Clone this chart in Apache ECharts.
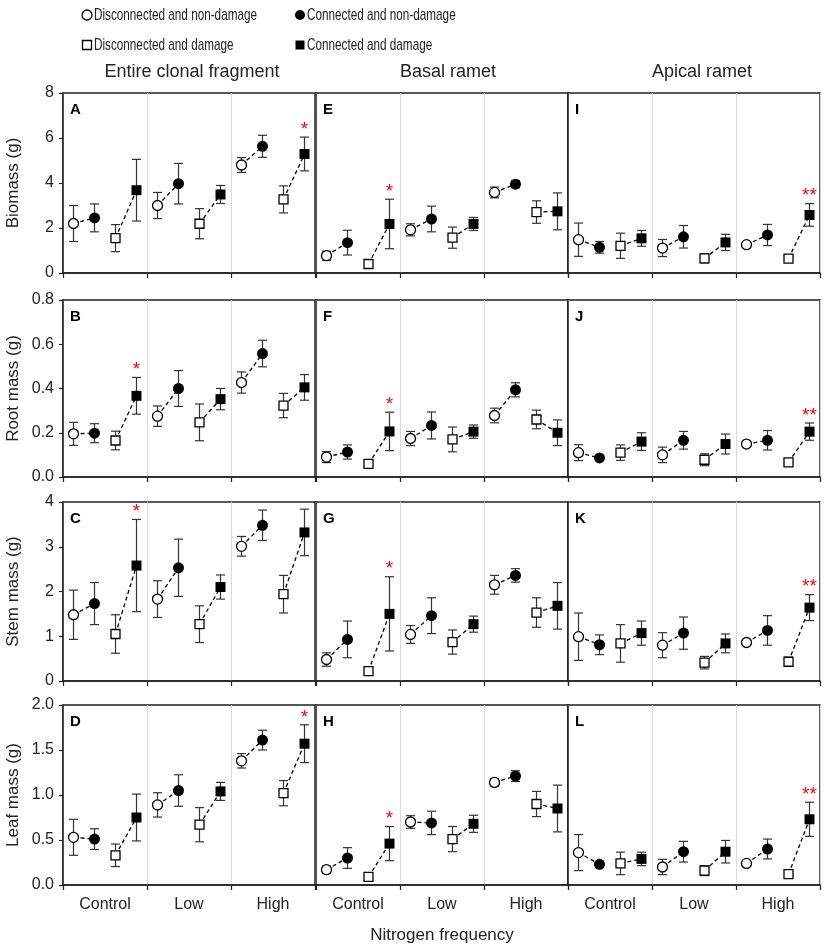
<!DOCTYPE html>
<html>
<head>
<meta charset="utf-8">
<title>Nitrogen frequency</title>
<script src="https://cdn.jsdelivr.net/npm/echarts@6.0.0/dist/echarts.min.js"></script>
<style>
  html, body { margin: 0; padding: 0; background: #fff; }
  #chart { width: 829px; height: 947px; }
</style>
</head>
<body>
<div id="chart"></div>
<script type="text/javascript">
// ---- data ----
var nitrogen = ['Control', 'Low', 'High'];
var treatments = ['Disconnected and non-damage', 'Connected and non-damage',
                  'Disconnected and damage', 'Connected and damage'];
var columnTitles = ['Entire clonal fragment', 'Basal ramet', 'Apical ramet'];
var rowNames = ['Biomass (g)', 'Root mass (g)', 'Stem mass (g)', 'Leaf mass (g)'];
var yMax = [8, 0.8, 4, 2];
var yStep = [2, 0.2, 1, 0.5];
var yDigits = [0, 1, 0, 1];
var letters = ['A', 'B', 'C', 'D', 'E', 'F', 'G', 'H', 'I', 'J', 'K', 'L'];

// order inside each group: open circle, filled circle, open square, filled square
var meanA = [2.2, 2.45, 1.55, 3.68, 3.0, 3.97, 2.19, 3.49, 4.8, 5.63, 3.27, 5.29];
var errA  = [0.8, 0.62, 0.6, 1.37, 0.58, 0.9, 0.67, 0.4, 0.33, 0.49, 0.6, 0.75];
var meanB = [0.195, 0.198, 0.165, 0.367, 0.275, 0.4, 0.247, 0.352, 0.427, 0.558, 0.323, 0.405];
var errB  = [0.052, 0.043, 0.042, 0.083, 0.046, 0.081, 0.083, 0.048, 0.048, 0.06, 0.055, 0.058];
var meanC = [1.48, 1.73, 1.05, 2.58, 1.83, 2.53, 1.27, 2.1, 3.01, 3.48, 1.94, 3.32];
var errC  = [0.55, 0.47, 0.43, 1.03, 0.41, 0.64, 0.41, 0.27, 0.22, 0.34, 0.42, 0.52];
var meanD = [0.53, 0.51, 0.33, 0.75, 0.89, 1.05, 0.67, 1.04, 1.38, 1.61, 1.02, 1.57];
var errD  = [0.2, 0.115, 0.125, 0.26, 0.135, 0.175, 0.19, 0.1, 0.08, 0.11, 0.14, 0.21];
var meanE = [0.77, 1.35, 0.4, 2.18, 1.92, 2.4, 1.57, 2.18, 3.58, 3.95, 2.71, 2.74];
var errE  = [0.2, 0.55, 0.05, 1.1, 0.27, 0.57, 0.47, 0.29, 0.24, 0.16, 0.5, 0.82];
var meanF = [0.09, 0.113, 0.059, 0.206, 0.174, 0.233, 0.17, 0.205, 0.278, 0.394, 0.26, 0.2];
var errF  = [0.025, 0.032, 0.008, 0.087, 0.032, 0.061, 0.056, 0.03, 0.033, 0.032, 0.042, 0.058];
var meanG = [0.48, 0.93, 0.22, 1.5, 1.04, 1.46, 0.87, 1.27, 2.15, 2.36, 1.53, 1.68];
var errG  = [0.15, 0.41, 0.03, 0.83, 0.2, 0.4, 0.27, 0.18, 0.21, 0.15, 0.33, 0.52];
var meanH = [0.17, 0.3, 0.09, 0.46, 0.7, 0.69, 0.51, 0.68, 1.14, 1.21, 0.9, 0.85];
var errH  = [0.04, 0.115, 0.01, 0.19, 0.07, 0.13, 0.14, 0.095, 0.04, 0.06, 0.14, 0.26];
var meanI = [1.48, 1.14, 1.21, 1.54, 1.11, 1.61, 0.65, 1.36, 1.26, 1.69, 0.64, 2.58];
var errI  = [0.74, 0.26, 0.56, 0.35, 0.38, 0.5, 0.2, 0.36, 0.05, 0.47, 0.05, 0.5];
var meanJ = [0.11, 0.086, 0.11, 0.16, 0.1, 0.166, 0.078, 0.149, 0.149, 0.166, 0.066, 0.205];
var errJ  = [0.036, 0.008, 0.035, 0.04, 0.035, 0.04, 0.027, 0.045, 0.008, 0.044, 0.008, 0.039];
var meanK = [0.99, 0.81, 0.84, 1.07, 0.8, 1.07, 0.41, 0.84, 0.86, 1.13, 0.43, 1.64];
var errK  = [0.53, 0.22, 0.42, 0.27, 0.28, 0.36, 0.14, 0.21, 0.03, 0.33, 0.1, 0.29];
var meanL = [0.36, 0.23, 0.24, 0.29, 0.2, 0.37, 0.16, 0.37, 0.24, 0.4, 0.12, 0.73];
var errL  = [0.2, 0.03, 0.125, 0.075, 0.085, 0.115, 0.055, 0.125, 0.02, 0.11, 0.01, 0.19];

// significance mark per panel (A..L): which point gets it, and the mark
var sigIndex = [11, 3, 3, 11, 3, 3, 3, 3, 11, 11, 11, 11];
var sigMark  = ['*', '*', '*', '*', '*', '*', '*', '*', '**', '**', '**', '**'];

var means = [meanA, meanB, meanC, meanD, meanE, meanF, meanG, meanH, meanI, meanJ, meanK, meanL];
var errs  = [errA, errB, errC, errD, errE, errF, errG, errH, errI, errJ, errK, errL];

// ---- layout ----
var colLeft = [63, 316, 568];
var colWidth = 252;
var rowTop = [93, 300, 502, 705];
var rowHeight = [180, 177, 179, 180];
var FONT = "'Liberation Sans', Arial, sans-serif";
var INK = '#222';

// legend text is condensed in the figure: squeeze it horizontally to fit
function textWidth(txt, size) {
    var ctx = document.createElement('canvas').getContext('2d');
    ctx.font = size + 'px ' + FONT;
    return ctx.measureText(txt).width;
}
var legendSize = 17;
var legendSqueeze = 163 / textWidth(treatments[0], legendSize);

var markStyle = [
    { symbol: 'circle', size: 10, color: '#fff', border: 1.3 },
    { symbol: 'circle', size: 11, color: '#000', border: 0 },
    { symbol: 'rect', size: 9, color: '#fff', border: 1.3 },
    { symbol: 'rect', size: 10, color: '#000', border: 0 }
];

var cats = [];
nitrogen.forEach(function (n) {
    treatments.forEach(function (t) { cats.push(n + ' / ' + t); });
});

var groupEdge = function (i) { return i % 4 === 0; };

var grids = [], xAxes = [], yAxes = [], series = [], graphics = [];
var xi = 0;

for (var c = 0; c < 3; c++) {
    for (var r = 0; r < 4; r++) {
        var p = c * 4 + r;
        grids.push({
            left: colLeft[c], top: rowTop[r], width: colWidth, height: rowHeight[r],
            show: true, borderColor: INK, borderWidth: 1.5, backgroundColor: 'transparent'
        });
        var dataAxis = xi;
        xAxes.push({
            type: 'category', gridIndex: p, data: cats, boundaryGap: true,
            axisLine: { lineStyle: { color: INK, width: 1.5 } },
            axisTick: { show: true, interval: groupEdge, length: 5, lineStyle: { color: INK, width: 1.2 } },
            axisLabel: { show: false },
            splitLine: { show: true, interval: groupEdge, lineStyle: { color: '#d9d9d9', width: 1 } }
        });
        xi++;
        if (r === 3) {
            xAxes.push({
                type: 'category', gridIndex: p, data: nitrogen, position: 'bottom',
                axisLine: { show: false }, axisTick: { show: false }, splitLine: { show: false },
                axisLabel: { fontSize: 16, margin: 12, color: INK, fontFamily: FONT },
                name: c === 1 ? 'Nitrogen frequency' : '',
                nameLocation: 'middle', nameGap: 42,
                nameTextStyle: { fontSize: 17, color: INK, fontFamily: FONT }
            });
            xi++;
        }
        yAxes.push({
            type: 'value', gridIndex: p, min: 0, max: yMax[r], interval: yStep[r],
            axisLine: { show: true, lineStyle: { color: INK, width: 1.5 } },
            axisTick: { show: c === 0, length: 4, lineStyle: { color: INK, width: 1.2 } },
            axisLabel: {
                show: c === 0, fontSize: 16, margin: 9, color: INK, fontFamily: FONT,
                formatter: (function (d) { return function (v) { return v.toFixed(d); }; })(yDigits[r])
            },
            splitLine: { show: false },
            name: c === 0 ? rowNames[r] : '',
            nameLocation: 'middle', nameGap: 41,
            nameTextStyle: { fontSize: 17, color: INK, fontFamily: FONT }
        });

        var m = means[p], e = errs[p];

        // dashed links: open -> filled circle, open -> filled square, within each group
        [0, 2].forEach(function (k) {
            series.push({
                type: 'line', xAxisIndex: dataAxis, yAxisIndex: p, z: 2,
                symbol: 'none', silent: true, connectNulls: false,
                lineStyle: { color: '#000', width: 1.3, type: [4, 3] },
                data: m.map(function (v, i) { return (i % 4 === k || i % 4 === k + 1) ? v : '-'; })
            });
        });

        // error bars + significance marks
        series.push({
            type: 'custom', xAxisIndex: dataAxis, yAxisIndex: p, z: 3, silent: true,
            data: m.map(function (v, i) { return [i, v, e[i]]; }),
            renderItem: (function (panel) {
                return function (params, api) {
                    var x = api.value(0), v = api.value(1), s = api.value(2);
                    var top = api.coord([x, v + s]), bot = api.coord([x, v - s]);
                    var w = 4.5, st = { stroke: '#333', lineWidth: 1.2 };
                    var kids = [
                        { type: 'line', shape: { x1: top[0], y1: top[1], x2: bot[0], y2: bot[1] }, style: st },
                        { type: 'line', shape: { x1: top[0] - w, y1: top[1], x2: top[0] + w, y2: top[1] }, style: st },
                        { type: 'line', shape: { x1: bot[0] - w, y1: bot[1], x2: bot[0] + w, y2: bot[1] }, style: st }
                    ];
                    if (params.dataIndex === sigIndex[panel]) {
                        kids.push({
                            type: 'text',
                            style: {
                                text: sigMark[panel], x: top[0], y: top[1] - 17,
                                fill: '#ff0000', fontSize: 19, fontFamily: FONT,
                                align: 'center', verticalAlign: 'top'
                            }
                        });
                    }
                    return { type: 'group', children: kids };
                };
            })(p)
        });

        // markers
        for (var k = 0; k < 4; k++) {
            var ms = markStyle[k];
            var pts = [];
            m.forEach(function (v, i) { if (i % 4 === k) pts.push([i, v]); });
            series.push({
                type: 'scatter', name: treatments[k], xAxisIndex: dataAxis, yAxisIndex: p, z: 4,
                symbol: ms.symbol, symbolSize: ms.size, silent: true,
                itemStyle: { color: ms.color, borderColor: '#000', borderWidth: ms.border, opacity: 1 },
                data: pts
            });
        }

        graphics.push({
            type: 'text', left: colLeft[c] + 7, top: rowTop[r] + 9,
            style: { text: letters[p], fontSize: 15, fontWeight: 'bold', fill: '#000', fontFamily: FONT }
        });
    }
}

var titleX = [192, 448, 702];
columnTitles.forEach(function (t, i) {
    graphics.push({
        type: 'text', x: titleX[i], y: 72,
        style: { text: t, fontSize: 18, fill: INK, fontFamily: FONT, align: 'center', verticalAlign: 'middle' }
    });
});

// legend: two columns, two rows
var legendX = [87, 300, 87, 300];
var legendY = [15, 15, 45, 45];
treatments.forEach(function (t, k) {
    var ms = markStyle[k], cx = legendX[k], cy = legendY[k];
    var half = ms.symbol === 'circle' ? 5 : 4.5;
    var icon = ms.symbol === 'circle'
        ? { type: 'circle', shape: { cx: cx, cy: cy, r: half } }
        : { type: 'rect', shape: { x: cx - half, y: cy - half, width: 2 * half, height: 2 * half } };
    icon.style = { fill: ms.color, stroke: '#000', lineWidth: ms.border || 0 };
    graphics.push(icon);
    graphics.push({
        type: 'text', x: cx + 7, y: cy, scaleX: legendSqueeze,
        style: { text: t, fontSize: legendSize, fill: INK, fontFamily: FONT, align: 'left', verticalAlign: 'middle' }
    });
});

var option = {
    backgroundColor: '#fff',
    animation: false,
    grid: grids,
    xAxis: xAxes,
    yAxis: yAxes,
    graphic: graphics,
    series: series
};

var chart = echarts.init(document.getElementById('chart'));
chart.setOption(option);
</script>
</body>
</html>
